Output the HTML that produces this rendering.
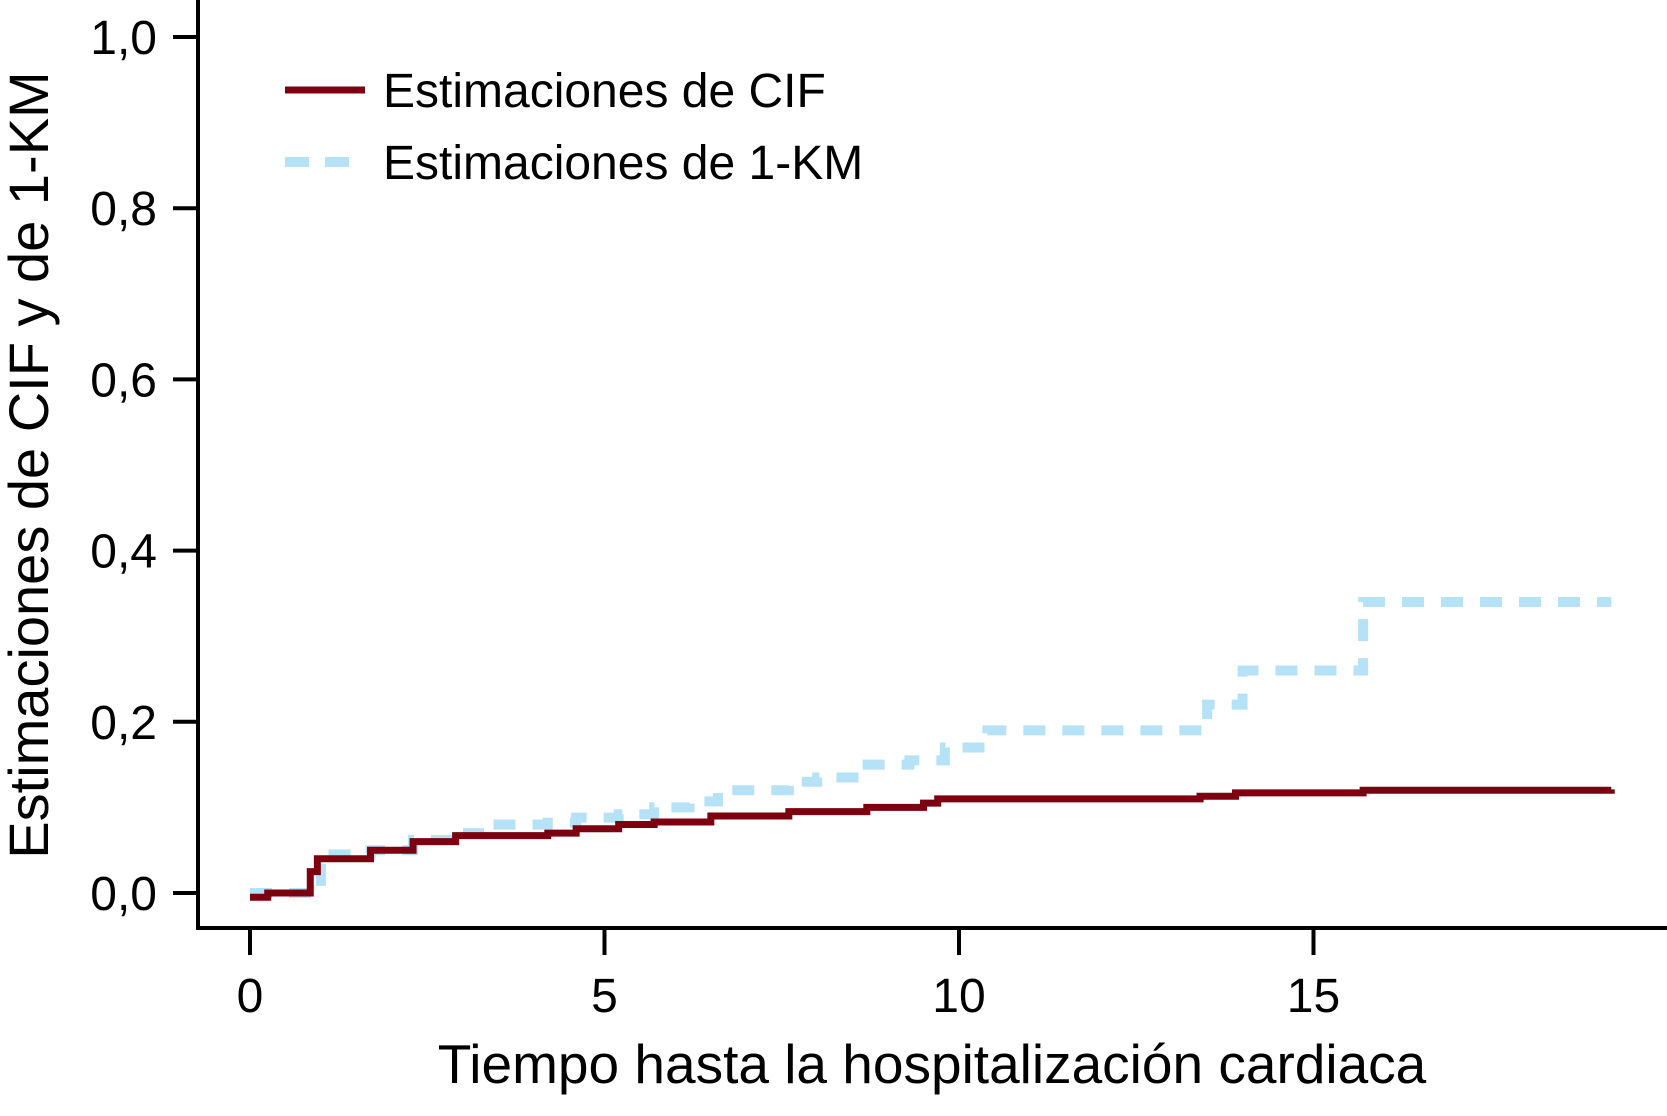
<!DOCTYPE html>
<html><head><meta charset="utf-8"><style>
body{margin:0;background:#fff}
svg text{font-family:"Liberation Sans",sans-serif;fill:#000}
</style></head><body>
<svg id="chart" width="1667" height="1111" viewBox="0 0 1667 1111" xmlns="http://www.w3.org/2000/svg">
<g id="axes"></g>
<g id="series"></g>
<g>
<line x1="285" y1="90" x2="365" y2="90" stroke="#7d0011" stroke-width="7"/>
<text x="383" y="107" font-size="48">Estimaciones de CIF</text>
<line x1="285" y1="162" x2="365" y2="162" stroke="#b5e2f7" stroke-width="10" stroke-dasharray="24,16"/>
<text x="383" y="179" font-size="48">Estimaciones de 1-KM</text>
</g>
<text x="932" y="1083" font-size="55" text-anchor="middle">Tiempo hasta la hospitalización cardiaca</text>
<text transform="translate(48,465) rotate(-90)" font-size="56" text-anchor="middle">Estimaciones de CIF y de 1-KM</text>
</svg>
<script>
const xTicks=[0,5,10,15];
const yTicks=[0,0.2,0.4,0.6,0.8,1.0];
const yTickLabels=["0,0","0,2","0,4","0,6","0,8","1,0"];
const cifTimes=[0,0.25,0.55,0.85,0.95,1.7,2.3,2.9,4.2,4.6,5.2,5.7,6.5,7.6,8.7,9.5,9.7,13.4,13.9,15.7,19.2];
const cifValues=[-0.005,0,0,0.025,0.04,0.05,0.06,0.067,0.07,0.075,0.08,0.083,0.09,0.095,0.1,0.105,0.11,0.113,0.117,0.12,0.121];
const kmTimes=[0,0.5,1.0,1.7,2.3,2.9,3.3,4.2,4.6,5.2,5.7,6.2,6.6,7.6,8.0,8.6,9.3,9.8,10.4,13.5,14.0,15.7,19.2];
const kmValues=[0,0,0.045,0.05,0.062,0.07,0.08,0.082,0.088,0.092,0.1,0.107,0.12,0.13,0.135,0.15,0.155,0.17,0.19,0.22,0.26,0.34,0.34];
const NS="http://www.w3.org/2000/svg";
const X=t=>250+t*70.9;
const Y=v=>893-v*856;
function mk(tag,attrs,parent){const e=document.createElementNS(NS,tag);for(const k in attrs)e.setAttribute(k,attrs[k]);parent.appendChild(e);return e;}
const axes=document.getElementById('axes');
let a=mk('line',{x1:198,y1:0,x2:198,y2:930,stroke:'#000','stroke-width':4},axes);


a=mk('line',{x1:196,y1:928,x2:1667,y2:928,stroke:'#000','stroke-width':4},axes);


xTicks.forEach(t=>{
 const l=mk('line',{x1:X(t),y1:928,x2:X(t),y2:955,stroke:'#000','stroke-width':4},axes);
 
 
 const tx=mk('text',{x:X(t),y:1012,'font-size':48,'text-anchor':'middle'},axes);
 tx.textContent=t;
 
 
});
yTicks.forEach((v,i)=>{
 const l=mk('line',{x1:173,y1:Y(v),x2:198,y2:Y(v),stroke:'#000','stroke-width':4},axes);
 
 
 const tx=mk('text',{x:157,y:Y(v)+17,'font-size':48,'text-anchor':'end'},axes);
 tx.textContent=yTickLabels[i];
 
 
});
function stepPath(ts,vs){let d='M'+X(ts[0])+','+Y(vs[0]);for(let i=1;i<ts.length;i++){d+=' H'+X(ts[i])+' V'+Y(vs[i]);}return d;}
const ser=document.getElementById('series');
const km=mk('path',{d:stepPath(kmTimes,kmValues),fill:'none',stroke:'#b5e2f7','stroke-width':10,'stroke-dasharray':'22,17'},ser);


const cif=mk('path',{d:stepPath(cifTimes,cifValues),fill:'none',stroke:'#7d0011','stroke-width':7},ser);


</script>
</body></html>
